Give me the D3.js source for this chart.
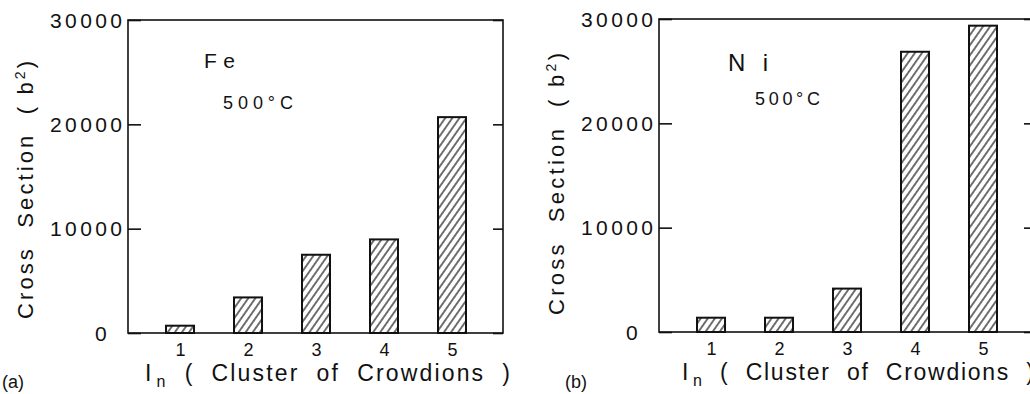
<!DOCTYPE html>
<html lang="en">
<head>
<meta charset="utf-8">
<title>Cross section vs cluster of crowdions</title>
<script src="https://cdn.jsdelivr.net/npm/d3@7/dist/d3.min.js"></script>
<style>
    body { margin: 0; background: #fff; }
    svg { display: block; font-family: "Liberation Sans", Arial, sans-serif; }
    .frame { fill: none; stroke: #111; stroke-width: 1.6; }
    .axis line { stroke: #111; stroke-width: 1.6; }
    .axis path { display: none; }
    .axis text { fill: #111; font-family: "Liberation Sans", Arial, sans-serif; }
    .bar { stroke: #111; stroke-width: 2; }
    .lbl { fill: #111; white-space: pre; }
</style>
</head>
<body>
<svg></svg>
<script>
    // values (cross section in b^2)
    var clusters = [1, 2, 3, 4, 5];
    var feValues = [700, 3410, 7500, 8970, 20690];
    var niValues = [1370, 1370, 4160, 26860, 29360];
    var yTicks = [0, 10000, 20000, 30000];
    var elements = ["Fe", "Ni"];
    var temps = ["500°C", "500°C"];
    var panelTags = ["(a)", "(b)"];

    var width = 1030, height = 394;
    var chartWidth = 375, chartHeight = 313;

    // per-panel placement of the lettering (hand-lettered figure, not quite regular)
    var panels = [
        {values: feValues, left: 128, top: 20, tagX: 2,
         el: [76, 48, 21, 31], temp: [95, 89, 70], yTitle: 170, yTitleLen: 258, xTitle: [17, 365]},
        {values: niValues, left: 659, top: 19, tagX: 565,
         el: [69, 52, 24, 40], temp: [96, 86, 65], yTitle: 165, yTitleLen: 262, xTitle: [23, 352]}
    ];

    var svg = d3.select("svg").attr("width", width).attr("height", height);

    // diagonal hatching for the bars
    svg.append("defs").append("pattern")
        .attr("id", "hatch")
        .attr("patternUnits", "userSpaceOnUse")
        .attr("width", 5.8).attr("height", 10)
        .attr("patternTransform", "rotate(35)")
        .call(function (p) {
            p.append("rect").attr("width", 5.8).attr("height", 10).attr("fill", "#fff");
            p.append("line").attr("x1", 2.9).attr("x2", 2.9).attr("y1", 0).attr("y2", 10)
                .attr("stroke", "#111").attr("stroke-width", 1.2);
        });

    var x = d3.scaleLinear().domain([0.235, 5.75]).range([0, chartWidth]);
    var y = d3.scaleLinear().domain([0, 30000]).range([chartHeight, 0]);
    var barW = 28;

    panels.forEach(function (p, i) {
        var g = svg.append("g").attr("transform", "translate(" + p.left + "," + p.top + ")");

        g.selectAll(".bar")
            .data(p.values)
            .enter().append("rect")
            .attr("class", "bar")
            .attr("fill", "url(#hatch)")
            .attr("x", function (d, j) { return x(clusters[j]) - barW / 2; })
            .attr("width", barW)
            .attr("y", function (d) { return y(d); })
            .attr("height", function (d) { return y(0) - y(d); });

        // left ticks point inward, labels drawn by hand (wide lettering)
        g.append("g").attr("class", "axis")
            .call(d3.axisLeft(y).tickValues(yTicks).tickSize(-13).tickFormat(""));
        g.selectAll(".ylab")
            .data(yTicks)
            .enter().append("text")
            .attr("class", "lbl ylab")
            .attr("x", function (d) { return d === 0 ? -33 : -78; })
            .attr("y", function (d) { return y(d); })
            .attr("dy", "0.36em")
            .style("font-size", "21px")
            .attr("lengthAdjust", "spacing")
            .attr("textLength", function (d) { return d === 0 ? null : 72; })
            .text(d3.format("d"));

        // right side inward ticks
        g.append("g").attr("class", "axis")
            .attr("transform", "translate(" + chartWidth + ",0)")
            .call(d3.axisRight(y).tickValues(yTicks).tickSize(-10).tickFormat(""));

        var xa = g.append("g").attr("class", "axis")
            .attr("transform", "translate(0," + chartHeight + ")")
            .call(d3.axisBottom(x).tickValues(clusters).tickSize(0).tickPadding(10).tickFormat(d3.format("d")));
        xa.selectAll("text").style("font-size", "18px");

        g.append("rect").attr("class", "frame")
            .attr("width", chartWidth).attr("height", chartHeight);

        g.append("text").attr("class", "lbl")
            .attr("x", p.el[0]).attr("y", p.el[1])
            .style("font-size", p.el[2] + "px")
            .attr("lengthAdjust", "spacing").attr("textLength", p.el[3])
            .text(elements[i]);

        g.append("text").attr("class", "lbl")
            .attr("x", p.temp[0]).attr("y", p.temp[1])
            .style("font-size", "18px")
            .attr("lengthAdjust", "spacing").attr("textLength", p.temp[2])
            .text(temps[i]);

        // y title
        var yl = g.append("text").attr("class", "lbl")
            .attr("transform", "translate(-95," + p.yTitle + ") rotate(-90)")
            .attr("text-anchor", "middle")
            .style("font-size", "22px")
            .attr("lengthAdjust", "spacing").attr("textLength", p.yTitleLen);
        yl.append("tspan").text("Cross  Section  ( b");
        yl.append("tspan").attr("dy", -8).style("font-size", "14px").text("2");
        yl.append("tspan").attr("dy", 8).text(")");

        // x title
        var xl = g.append("text").attr("class", "lbl")
            .attr("x", p.xTitle[0]).attr("y", 361)
            .style("font-size", "23px")
            .attr("lengthAdjust", "spacing").attr("textLength", p.xTitle[1]);
        xl.append("tspan").text("I");
        xl.append("tspan").attr("dx", 3).attr("dy", 6).style("font-size", "16px").text("n");
        xl.append("tspan").attr("dy", -6).text("  (  Cluster  of  Crowdions  )");

        svg.append("text").attr("class", "lbl")
            .attr("x", p.tagX).attr("y", 388)
            .style("font-size", "18px")
            .text(panelTags[i]);
    });
</script>
</body>
</html>
